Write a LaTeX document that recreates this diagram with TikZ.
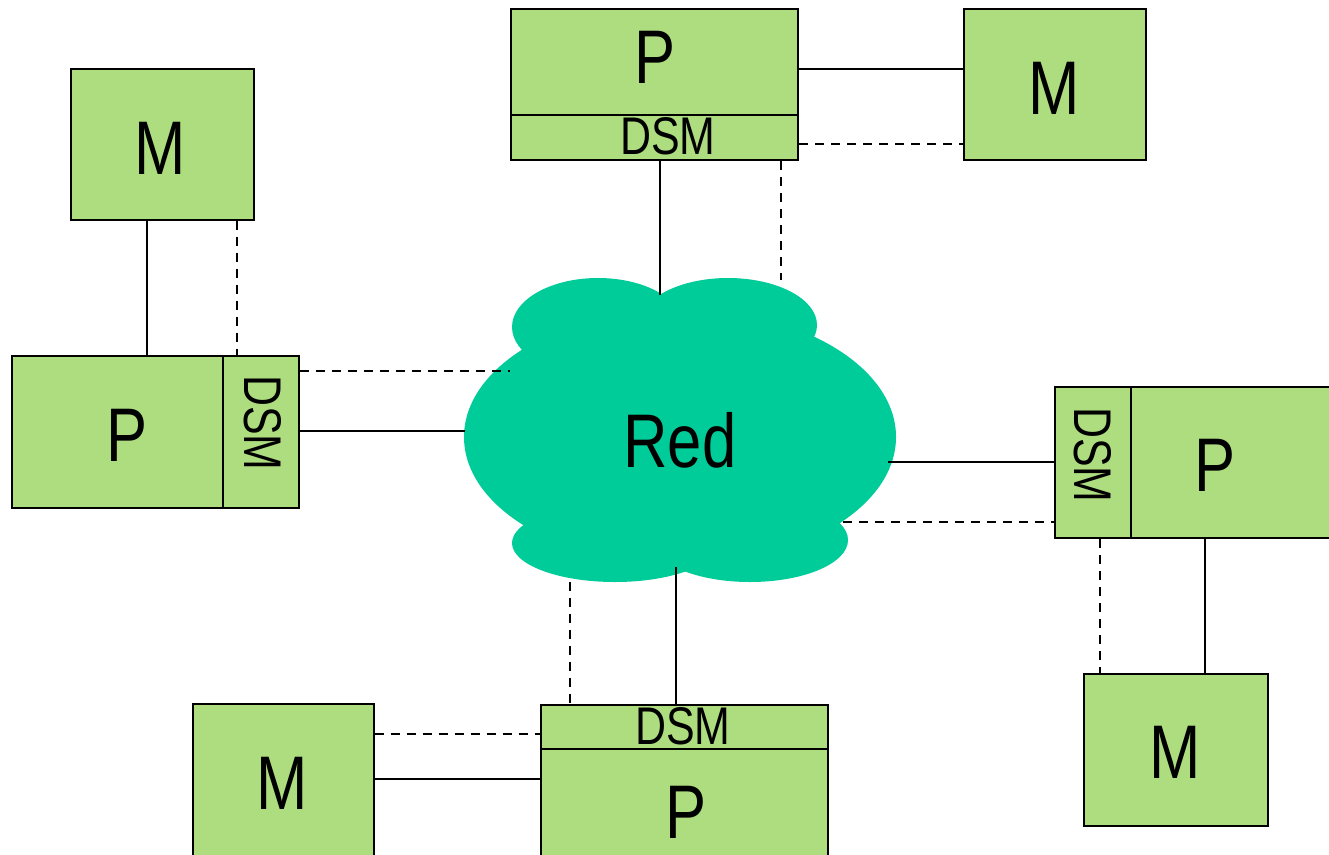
\documentclass[tikz,border=0pt]{standalone}
\usepackage{fontspec}
\setmainfont{Liberation Sans}
\definecolor{boxgreen}{HTML}{AEDD80}
\definecolor{netgreen}{HTML}{00CC99}
\tikzset{
  unit/.style={draw=black, line width=2pt, fill=boxgreen, inner sep=0pt, anchor=north west},
  bigtxt/.style={inner sep=0pt, font=\fontsize{76}{80}\selectfont},
  dsmtxt/.style={inner sep=0pt, font=\fontsize{53}{56}\selectfont},
  link/.style={draw=black, line width=2pt},
  shadow link/.style={draw=black, line width=2pt, dash pattern=on 9pt off 7pt},
}
\newcommand{\narrowtxt}[1]{\scalebox{0.81}[1]{#1}}

\begin{document}
\begin{tikzpicture}[x=1pt,y=-1pt]
\useasboundingbox (0,0) rectangle (1329,854);
\fill[white] (0,0) rectangle (1329,854);
\clip (0,0) rectangle (1329,854);

% the network cloud, built from overlapping ellipses
\begin{scope}[fill=netgreen]
  \fill (680,437) ellipse [x radius=216, y radius=128];
  \fill (598,327) ellipse [x radius=86, y radius=49];
  \fill (728,325) ellipse [x radius=89, y radius=47];
  \fill (615,543) ellipse [x radius=103, y radius=39];
  \fill (750,540) ellipse [x radius=98, y radius=42];
\end{scope}
\node[bigtxt] (net) at (680,440) {\narrowtxt{Red}};

% attachment points on the cloud
\coordinate (cA) at (660,295);
\coordinate (cB) at (781,280);
\coordinate (cC) at (510,371);
\coordinate (cD) at (465,431);
\coordinate (cE) at (888,462);
\coordinate (cF) at (843,522);
\coordinate (cG) at (676,567);
\coordinate (cH) at (570,582);

% top node
\node[unit, minimum width=287, minimum height=106] (pTop) at (510,8) {};
\node[unit, minimum width=287, minimum height=45] (dTop) at (510,114) {};
\node[unit, minimum width=182, minimum height=151] (mTop) at (963,8) {};
\node[bigtxt] (tPTop) at (655,57) {\narrowtxt{P}};
\node[dsmtxt] (tDTop) at (668,136) {\narrowtxt{DSM}};
\node[bigtxt] (tMTop) at (1054,88) {\narrowtxt{M}};

% left node
\node[unit, minimum width=183, minimum height=151] (mLeft) at (70,68) {};
\node[unit, minimum width=211, minimum height=152] (pLeft) at (11,355) {};
\node[unit, minimum width=76, minimum height=152] (dLeft) at (222,355) {};
\node[bigtxt] (tMLeft) at (160,148) {\narrowtxt{M}};
\node[bigtxt] (tPLeft) at (127,435) {\narrowtxt{P}};
\node[dsmtxt, rotate=-90] (tDLeft) at (263,423) {\narrowtxt{DSM}};

% right node
\node[unit, minimum width=76, minimum height=151] (dRight) at (1054,386) {};
\node[unit, minimum width=220, minimum height=151] (pRight) at (1130,386) {};
\node[unit, minimum width=184, minimum height=152] (mRight) at (1083,673) {};
\node[dsmtxt, rotate=-90] (tDRight) at (1093,455) {\narrowtxt{DSM}};
\node[bigtxt] (tPRight) at (1215,465) {\narrowtxt{P}};
\node[bigtxt] (tMRight) at (1175,752) {\narrowtxt{M}};

% bottom node
\node[unit, minimum width=287, minimum height=44] (dBot) at (540,704) {};
\node[unit, minimum width=287, minimum height=130] (pBot) at (540,748) {};
\node[unit, minimum width=181, minimum height=170] (mBot) at (192,703) {};
\node[dsmtxt] (tDBot) at (683,726) {\narrowtxt{DSM}};
\node[bigtxt] (tPBot) at (686,812) {\narrowtxt{P}};
\node[bigtxt] (tMBot) at (282,783) {\narrowtxt{M}};

% connections
\draw[link] (pTop.east |- 0,69) -- (mTop.west |- 0,69);
\draw[shadow link] (dTop.east |- 0,144) -- (mTop.west |- 0,144);
\draw[link] (dTop.south -| cA) -- (cA);
\draw[shadow link] (dTop.south -| cB) -- (cB);

\draw[link] (mLeft.south -| 147,0) -- (pLeft.north -| 147,0);
\draw[shadow link] (mLeft.south -| 237,0) -- (dLeft.north -| 237,0);
\draw[shadow link] (dLeft.east |- cC) -- (cC);
\draw[link] (dLeft.east |- cD) -- (cD);

\draw[link] (cE) -- (dRight.west |- cE);
\draw[shadow link] (cF) -- (dRight.west |- cF);
\draw[link] (pRight.south -| 1205,0) -- (mRight.north -| 1205,0);
\draw[shadow link] (dRight.south -| 1100,0) -- (mRight.north -| 1100,0);

\draw[link] (cG) -- (dBot.north -| cG);
\draw[shadow link] (cH) -- (dBot.north -| cH);
\draw[shadow link] (mBot.east |- 0,734) -- (dBot.west |- 0,734);
\draw[link] (mBot.east |- 0,779) -- (pBot.west |- 0,779);
\end{tikzpicture}
\end{document}
